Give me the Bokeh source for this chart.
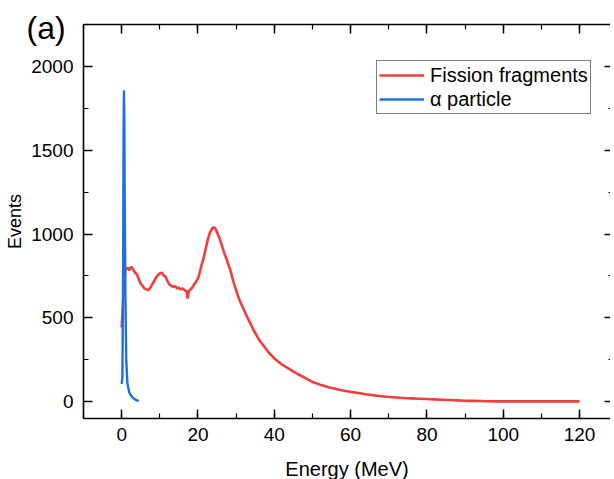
from bokeh.plotting import figure
from bokeh.models import (Range1d, LinearAxis, SingleIntervalTicker, Legend, LegendItem,
                          CustomJSTickFormatter, Title)
from bokeh.embed import file_html
from bokeh.resources import INLINE

# Fission fragments spectrum
ff_energy = [0, 0.3, 0.6, 1.0, 1.5, 2.0, 2.5, 3.0, 3.5, 4.0, 4.5, 5.0, 5.5, 6.0, 6.5, 7.0,
             7.5, 8.0, 8.5, 9.0, 9.5, 10.0, 10.5, 11.0, 11.5, 12.0, 12.5, 13.0, 13.5, 14.0,
             14.5, 15.0, 15.5, 16.0, 16.5, 17.0, 17.3, 17.6, 18.0, 18.5, 19.0, 19.5, 20.0,
             20.5, 21.0, 21.5, 22.0, 22.5, 23.0, 23.5, 24.0, 24.5, 25.0, 25.5, 26.0, 26.5,
             27.0, 27.5, 28.0, 28.5, 29.0, 29.5, 30.0, 30.5, 31.0, 31.5, 32.0, 32.5, 33.0,
             33.5, 34.0, 34.5, 35.0, 35.5, 36.0, 36.5, 37.0, 37.5, 38.0, 38.5, 39.0, 39.5,
             40, 41, 42, 43, 44, 45, 46, 47, 48, 49, 50, 51, 52, 53, 54, 55, 56, 57, 58, 59,
             60, 62, 64, 66, 68, 70, 72, 74, 76, 78, 80, 82, 84, 86, 88, 90, 92, 94, 96, 98,
             100, 105, 110, 115, 120]
ff_events = [442, 560, 700, 790, 800, 785, 805, 790, 770, 760, 730, 705, 690, 675, 670, 665,
             680, 700, 720, 740, 755, 765, 770, 755, 745, 720, 700, 690, 685, 690,
             675, 680, 670, 675, 665, 660, 615, 660, 670, 680, 700, 715, 735,
             775, 820, 860, 910, 960, 1000, 1025, 1040, 1035, 1010, 985, 950, 915,
             880, 850, 815, 785, 740, 700, 665, 630, 600, 575, 550, 525, 500,
             478, 455, 430, 410, 390, 370, 355, 340, 325, 310, 295, 282, 270,
             258, 240, 222, 208, 195, 180, 167, 155, 143, 130, 118, 110, 102, 95, 88, 82, 77, 71, 67, 63,
             59, 52, 45, 39, 33, 28, 25, 22, 20, 18, 16, 14, 12, 10, 8, 6, 5, 4, 3, 2,
             2, 2, 2, 2, 2]

# alpha particle spectrum
alpha_energy = [0, 0.2, 0.4, 0.5, 0.6, 0.7, 0.8, 1.0, 1.2, 1.5, 2.0, 2.5, 3.0, 3.5, 4.0, 4.5]
alpha_events = [107, 150, 900, 1600, 1857, 1700, 1200, 600, 250, 110, 55, 35, 22, 14, 8, 5]

x_tick_interval = 20
y_tick_interval = 500

RED = "#F23D3D"
BLUE = "#1F6FE0"
FONT = "Liberation Sans"

p = figure(frame_width=527, frame_height=394,
           x_range=Range1d(-10, 128.1), y_range=Range1d(-100, 2250),
           output_backend="svg", toolbar_location=None,
           min_border_left=83, min_border_right=0, min_border_top=24, min_border_bottom=61,
           x_axis_label="Energy (MeV)", y_axis_label="Events")
p.xgrid.visible = False
p.ygrid.visible = False
p.outline_line_color = None
p.background_fill_color = "white"
p.border_fill_color = "white"

xt = SingleIntervalTicker(interval=x_tick_interval, num_minor_ticks=2)
yt = SingleIntervalTicker(interval=y_tick_interval, num_minor_ticks=2)

def style(ax, labels=True):
    ax.axis_line_color = "black"
    ax.axis_line_width = 1.6
    ax.major_tick_line_color = "black"
    ax.minor_tick_line_color = "black"
    ax.major_tick_line_width = 1.5
    ax.minor_tick_line_width = 1.2
    ax.major_tick_in = 9
    ax.major_tick_out = 0
    ax.minor_tick_in = 5
    ax.minor_tick_out = 0
    ax.major_label_text_font = FONT
    ax.major_label_text_color = "black"
    if labels:
        ax.major_label_text_font_size = "19px"
    else:
        ax.formatter = CustomJSTickFormatter(code="return ''")
        ax.major_label_text_font_size = "1px"
        ax.major_label_standoff = 0
    ax.axis_label_text_font = FONT
    ax.axis_label_text_font_style = "normal"
    ax.axis_label_text_color = "black"

xa = p.xaxis[0]
xa.ticker = xt
style(xa)
xa.major_label_standoff = 9
xa.axis_label_text_font_size = "20px"
xa.axis_label_standoff = 14

ya = p.yaxis[0]
ya.ticker = yt
style(ya)
ya.major_label_standoff = 10
ya.axis_label_text_font_size = "18px"
ya.axis_label_standoff = 3

top = LinearAxis(ticker=SingleIntervalTicker(interval=x_tick_interval, num_minor_ticks=2))
style(top, labels=False)
p.add_layout(top, "above")

right = LinearAxis(ticker=SingleIntervalTicker(interval=y_tick_interval, num_minor_ticks=2))
style(right, labels=False)
right.axis_line_color = None
right.major_tick_in = 6
right.minor_tick_in = 2
p.add_layout(right, "right")

r_ff = p.line(ff_energy, ff_events, line_color=RED, line_width=2.6)
r_a = p.line(alpha_energy, alpha_events, line_color=BLUE, line_width=2.4)

legend = Legend(items=[LegendItem(label="Fission fragments", renderers=[r_ff]),
                       LegendItem(label="α particle", renderers=[r_a])],
                location=(293, 304))
legend.label_text_font = FONT
legend.label_text_font_size = "20px"
legend.label_text_color = "black"
legend.glyph_width = 45
legend.glyph_height = 24
legend.label_height = 24
legend.label_standoff = 6
legend.padding = 2
legend.spacing = 0
legend.margin = 0
legend.border_line_color = "black"
legend.border_line_width = 1
legend.background_fill_alpha = 1
p.add_layout(legend)

# panel tag "(a)" drawn as a title that overhangs into the top-left corner
tag = Title(text="(a)", align="left", offset=-57, standoff=-42,
            text_font=FONT, text_font_size="32px", text_font_style="normal",
            text_color="black")
p.add_layout(tag, "above")

open("out.html", "w").write(file_html(p, INLINE))
